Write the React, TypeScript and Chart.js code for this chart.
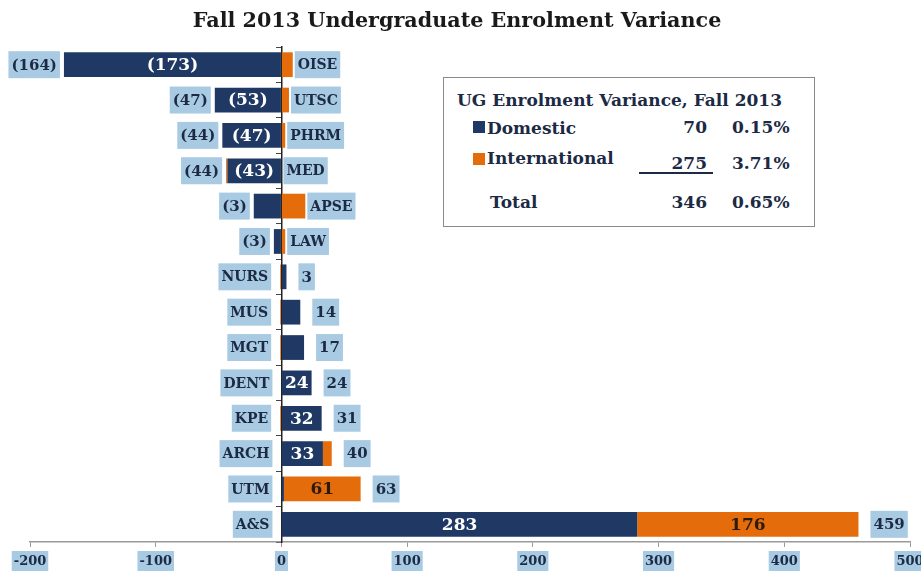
import React, { useEffect, useRef } from "react";
import { Chart, registerables } from "chart.js";

Chart.register(...registerables);

const categories = ["OISE", "UTSC", "PHRM", "MED", "APSE", "LAW", "NURS", "MUS", "MGT", "DENT", "KPE", "ARCH", "UTM", "A&S"];
const domestic = [-173, -53, -47, -43, -22, -6, 4, 15, 18, 24, 32, 33, 2, 283];
const international = [9, 6, 3, -1, 19, 3, -1, -1, -1, 0, -1, 7, 61, 176];
const totals = [-164, -47, -44, -44, -3, -3, 3, 14, 17, 24, 31, 40, 63, 459];
const showDomesticLabel = [true, true, true, true, false, false, false, false, false, true, true, true, false, true];
const showInternationalLabel = [false, false, false, false, false, false, false, false, false, false, false, false, true, true];
const xTicks = [-200, -100, 0, 100, 200, 300, 400, 500];

const NAVY = "#1f3864";
const ORANGE = "#e46c0a";
const LIGHT = "#a9cae3";
const TEXT = "#1c2a44";
const FONT = "'DejaVu Serif', serif";

function fmt(v: number) {
  return v < 0 ? `(${Math.abs(v)})` : `${v}`;
}

const labelPlugin = {
  id: "labels",
  afterDatasetsDraw(chart: any) {
    const ctx = chart.ctx;
    const xs = chart.scales.x;
    const ys = chart.scales.y;
    const x0 = xs.getPixelForValue(0);
    const boxH = 27;
    const drawBox = (text: string, x: number, y: number, align: "left" | "right", size: number) => {
      ctx.font = `bold ${size}px ${FONT}`;
      const w = ctx.measureText(text).width + 6;
      const left = align === "left" ? x : x - w;
      ctx.fillStyle = LIGHT;
      ctx.fillRect(left, y - boxH / 2, w, boxH);
      ctx.fillStyle = TEXT;
      ctx.textAlign = "center";
      ctx.textBaseline = "middle";
      ctx.fillText(text, left + w / 2, y + 1);
    };
    ctx.save();
    categories.forEach((cat, i) => {
      const yc = ys.getPixelForValue(i);
      const vals = [domestic[i], international[i]];
      const pos = vals.filter((v) => v > 0).reduce((a, b) => a + b, 0);
      const neg = vals.filter((v) => v < 0).reduce((a, b) => a + b, 0);
      const xPos = xs.getPixelForValue(pos);
      const xNeg = xs.getPixelForValue(neg);
      if (totals[i] < 0) {
        drawBox(cat, Math.max(xPos, x0) + 2, yc, "left", 14);
        drawBox(fmt(totals[i]), xNeg - 4, yc, "right", 15);
      } else {
        drawBox(cat, Math.min(xNeg, x0) - 9, yc, "right", 14);
        drawBox(fmt(totals[i]), xPos + 12, yc, "left", 15);
      }
      const metaD = chart.getDatasetMeta(0).data[i];
      const metaI = chart.getDatasetMeta(1).data[i];
      ctx.font = `bold 17px ${FONT}`;
      ctx.textAlign = "center";
      ctx.textBaseline = "middle";
      if (showDomesticLabel[i]) {
        ctx.fillStyle = "#ffffff";
        ctx.fillText(fmt(domestic[i]), (metaD.x + metaD.base) / 2, yc + 1);
      }
      if (showInternationalLabel[i]) {
        ctx.fillStyle = "#2a1a10";
        ctx.fillText(fmt(international[i]), (metaI.x + metaI.base) / 2, yc + 1);
      }
    });
    ctx.restore();
  },
};

export default function App() {
  const canvasRef = useRef<HTMLCanvasElement | null>(null);

  useEffect(() => {
    document.body.style.margin = "0";
    const chart = new Chart(canvasRef.current!, {
      type: "bar",
      data: {
        labels: categories,
        datasets: [
          { label: "Domestic", data: domestic, backgroundColor: NAVY, barPercentage: 0.7, categoryPercentage: 1 },
          { label: "International", data: international, backgroundColor: ORANGE, barPercentage: 0.7, categoryPercentage: 1 },
        ],
      },
      options: {
        indexAxis: "y",
        animation: false,
        responsive: false,
        layout: { padding: { left: 30, right: 11, top: 47, bottom: 0 } },
        plugins: {
          legend: { display: false },
          tooltip: { enabled: false },
          title: { display: false },
        },
        scales: {
          x: {
            type: "linear",
            stacked: true,
            min: -200,
            max: 500,
            afterBuildTicks: (scale: any) => {
              scale.ticks = xTicks.map((v) => ({ value: v }));
            },
            afterFit: (scale: any) => {
              scale.paddingLeft = 0;
              scale.paddingRight = 0;
              scale.height = 29;
            },
            grid: { drawOnChartArea: false, drawTicks: true, tickLength: 5, color: "#9a9a9a" },
            border: { color: "#9a9a9a", width: 1.5 },
            ticks: {
              font: { family: FONT, size: 13, weight: "bold" },
              color: TEXT,
              padding: 7,
              showLabelBackdrop: true,
              backdropColor: LIGHT,
              backdropPadding: { top: 3, bottom: 3, left: 2, right: 2 },
              maxRotation: 0,
              autoSkip: false,
            },
          },
          y: {
            type: "category",
            stacked: true,
            position: { x: 0 } as any,
            grid: { drawOnChartArea: false, drawTicks: true, tickLength: 5, color: "#444", offset: true },
            border: { color: "#222", width: 1.5 },
            ticks: { display: false },
          },
        },
      },
      plugins: [labelPlugin],
    } as any);
    return () => chart.destroy();
  }, []);

  const txt: React.CSSProperties = {
    position: "absolute",
    fontFamily: FONT,
    fontWeight: "bold",
    fontSize: 17,
    color: TEXT,
    lineHeight: "20px",
    whiteSpace: "nowrap",
  };

  return (
    <div style={{ position: "relative", width: 921, height: 571, overflow: "hidden", background: "#fff" }}>
      <canvas ref={canvasRef} width={921} height={571} style={{ display: "block" }} />
      <div
        style={{
          position: "absolute",
          left: 0,
          width: 914,
          top: 7,
          textAlign: "center",
          fontFamily: FONT,
          fontWeight: "bold",
          fontSize: 20.7,
          lineHeight: "26px",
          color: "#1a1a1a",
          whiteSpace: "nowrap",
        }}
      >
        Fall 2013 Undergraduate Enrolment Variance
      </div>
      <div
        style={{
          position: "absolute",
          left: 443,
          top: 77,
          width: 370,
          height: 148,
          border: "1.5px solid #8a8a8a",
          background: "#fff",
        }}
      />
      <span style={{ ...txt, left: 457, top: 90 }}>UG Enrolment Variance, Fall 2013</span>
      <span style={{ position: "absolute", left: 473, top: 121, width: 12, height: 12, background: NAVY }} />
      <span style={{ ...txt, left: 487, top: 118 }}>Domestic</span>
      <span style={{ ...txt, left: 640, width: 67, textAlign: "right", top: 117 }}>70</span>
      <span style={{ ...txt, left: 732, top: 117 }}>0.15%</span>
      <span style={{ position: "absolute", left: 473, top: 153, width: 12, height: 12, background: ORANGE }} />
      <span style={{ ...txt, left: 487, top: 148 }}>International</span>
      <span style={{ ...txt, left: 640, width: 67, textAlign: "right", top: 153 }}>275</span>
      <span style={{ position: "absolute", left: 639, top: 172, width: 74, height: 1.5, background: TEXT }} />
      <span style={{ ...txt, left: 732, top: 153 }}>3.71%</span>
      <span style={{ ...txt, left: 490, top: 192 }}>Total</span>
      <span style={{ ...txt, left: 640, width: 67, textAlign: "right", top: 192 }}>346</span>
      <span style={{ ...txt, left: 732, top: 192 }}>0.65%</span>
    </div>
  );
}
